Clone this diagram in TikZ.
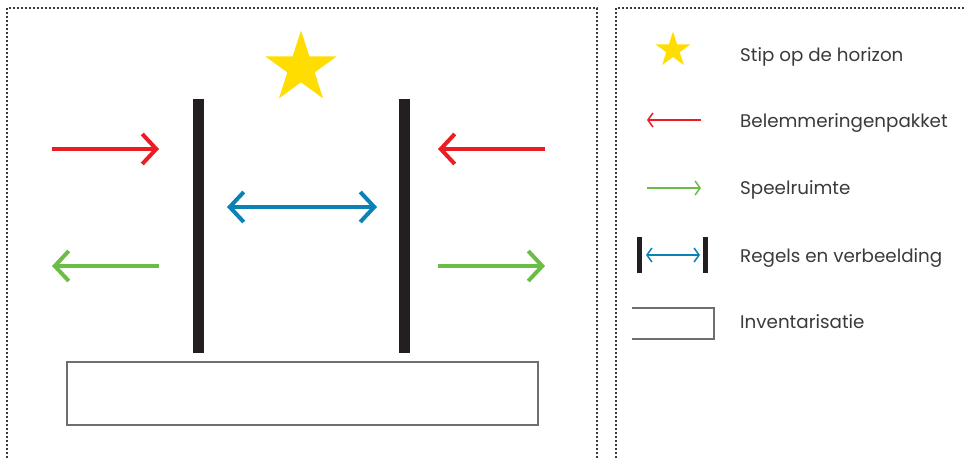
\documentclass[tikz,border=0pt]{standalone}
\usepackage{fontspec}
\setmainfont{Poppins}
\usetikzlibrary{arrows.meta,shapes.geometric}
\definecolor{cred}{HTML}{ED1C24}
\definecolor{cgreen}{HTML}{6CBD45}
\definecolor{cblue}{HTML}{0A82B8}
\definecolor{cyellow}{HTML}{FFDD00}
\definecolor{cbar}{HTML}{231F20}
\definecolor{cbox}{HTML}{6D6E71}
\definecolor{ctext}{HTML}{3A3A3A}
\definecolor{cdot}{HTML}{3A3A3A}
\begin{document}
\begin{tikzpicture}[x=1pt,y=-1pt,
  framedots/.style={draw=cdot, line width=1.3pt, dash pattern=on 2pt off 2pt},
  bigarrow/.style={line width=4pt, -{Straight Barb[length=14pt,width=30pt]}},
  bigdouble/.style={line width=4pt, {Straight Barb[length=14pt,width=30pt]}-{Straight Barb[length=14pt,width=30pt]}},
  smallarrow/.style={line width=1.5pt, -{Straight Barb[length=5pt,width=14pt]}},
  smalldouble/.style={line width=1.5pt, {Straight Barb[length=5pt,width=14pt]}-{Straight Barb[length=5pt,width=14pt]}},
  barbox/.style={fill=cbar, draw=none, inner sep=0pt, minimum width=#1, anchor=north west},
  starshape/.style={star, star points=5, star point ratio=2.618, fill=cyellow, draw=none, inner sep=0pt, minimum size=#1},
  legtext/.style={text=ctext, anchor=base west, inner sep=0pt, font=\fontsize{18.3}{22}\selectfont},
]
\useasboundingbox (0,0) rectangle (964,459);
% frames
\draw[framedots] (7,462) -- (7,8) -- (597,8) -- (597,462);
\draw[framedots] (616,462) -- (616,8) -- (967,8);

% star
\node[starshape=75pt] (star) at (301,68) {};

% bars
\node[barbox=11pt, minimum height=254pt] (barL) at (193,99) {};
\node[barbox=11pt, minimum height=254pt] (barR) at (399,99) {};

% base rectangle
\node[draw=cbox, line width=1.5pt, minimum width=471pt, minimum height=63pt, inner sep=0pt, anchor=north west] (base) at (66,361) {};

% arrows
\coordinate (rl0) at (52,149); \coordinate (rl1) at (159,149);
\coordinate (rr0) at (545,149); \coordinate (rr1) at (438,149);
\coordinate (gl0) at (159,266); \coordinate (gl1) at (52,266);
\coordinate (gr0) at (438,266); \coordinate (gr1) at (545,266);
\coordinate (b0) at (227,207); \coordinate (b1) at (377,207);
\draw[bigarrow, cred] (rl0) -- (rl1);
\draw[bigarrow, cred] (rr0) -- (rr1);
\draw[bigarrow, cgreen] (gl0) -- (gl1);
\draw[bigarrow, cgreen] (gr0) -- (gr1);
\draw[bigdouble, cblue] (b0) -- (b1);

% legend
\node[starshape=37pt] (lstar) at (673,50) {};
\coordinate (lr0) at (701,120); \coordinate (lr1) at (647,120);
\draw[smallarrow, cred] (lr0) -- (lr1);
\coordinate (lg0) at (647,188); \coordinate (lg1) at (701,188);
\draw[smallarrow, cgreen] (lg0) -- (lg1);
\node[barbox=5pt, minimum height=36pt] (lbarL) at (637,237) {};
\node[barbox=5pt, minimum height=36pt] (lbarR) at (703,237) {};
\coordinate (lb0) at (646,255); \coordinate (lb1) at (700,255);
\draw[smalldouble, cblue] (lb0) -- (lb1);
\coordinate (lx0) at (632,308); \coordinate (lx1) at (714,308);
\coordinate (lx2) at (714,339); \coordinate (lx3) at (632,339);
\draw[cbox, line width=1.5pt] (lx0) -- (lx1) -- (lx2) -- (lx3);

\node[legtext] (t1) at (740,61) {Stip op de horizon};
\node[legtext] (t2) at (740,127) {Belemmeringenpakket};
\node[legtext] (t3) at (740,194) {Speelruimte};
\node[legtext] (t4) at (740,262) {Regels en verbeelding};
\node[legtext] (t5) at (740,328) {Inventarisatie};
\end{tikzpicture}
\end{document}
